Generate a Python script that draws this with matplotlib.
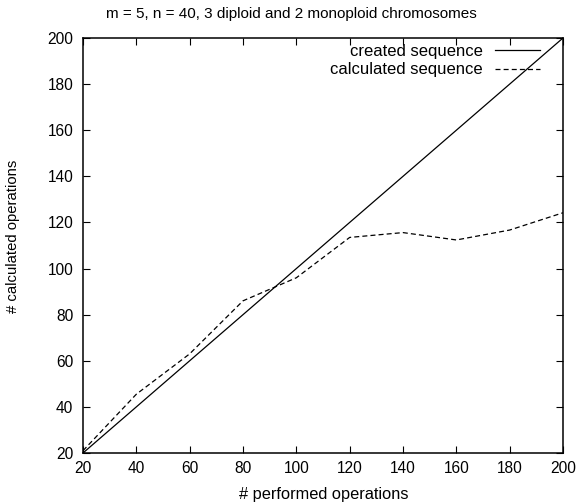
import matplotlib
matplotlib.use("Agg")
import matplotlib.pyplot as plt

plt.rcParams['font.family'] = ['Liberation Sans', 'DejaVu Sans']

performed = [20, 40, 60, 80, 100, 120, 140, 160, 180, 200]
created = [20, 40, 60, 80, 100, 120, 140, 160, 180, 200]
calculated = [21, 45.5, 63, 86, 96, 113.5, 115.6, 112.4, 116.7, 124.2]

x_ticks = [20, 40, 60, 80, 100, 120, 140, 160, 180, 200]
y_ticks = [20, 40, 60, 80, 100, 120, 140, 160, 180, 200]

W, H = 579, 504
fig = plt.figure(figsize=(W/100, H/100), dpi=100)
ax = fig.add_axes([83/W, 51/H, 480/W, 415/H])

ax.plot(performed, created, color='black', lw=0.9, label='created sequence')
ax.plot(performed, calculated, color='black', lw=0.9, ls=(0, (4, 2.5)), label='calculated sequence')

ax.set_xlim(20, 200)
ax.set_ylim(20, 200)
ax.set_xticks(x_ticks)
ax.set_yticks(y_ticks)
ax.tick_params(direction='in', top=True, right=True, length=5, width=0.8, labelsize=11.2)
ax.tick_params(axis='y', pad=7)
ax.tick_params(axis='x', pad=6)
for s in ax.spines.values():
    s.set_linewidth(1.1)

fig.text(324/W, 1 - 494/H, '# performed operations', fontsize=11.8, ha='center', va='center')
fig.text(13/W, 1 - 236/H, '# calculated operations', fontsize=10.7, ha='center', va='center', rotation=90)
fig.text(291/W, 1 - 14/H, 'm = 5, n = 40, 3 diploid and 2 monoploid chromosomes', fontsize=11,
         ha='center', va='center')

leg = ax.legend(loc='upper right', frameon=False, markerfirst=False, fontsize=12,
                handlelength=2.7, bbox_to_anchor=((540 - 83)/480, (453 - 44)/415),
                borderaxespad=0.0, borderpad=0.0, labelspacing=0.2, handletextpad=0.75)
for t in leg.get_texts():
    t.set_ha('right')

fig.savefig('out.png', dpi=100)
